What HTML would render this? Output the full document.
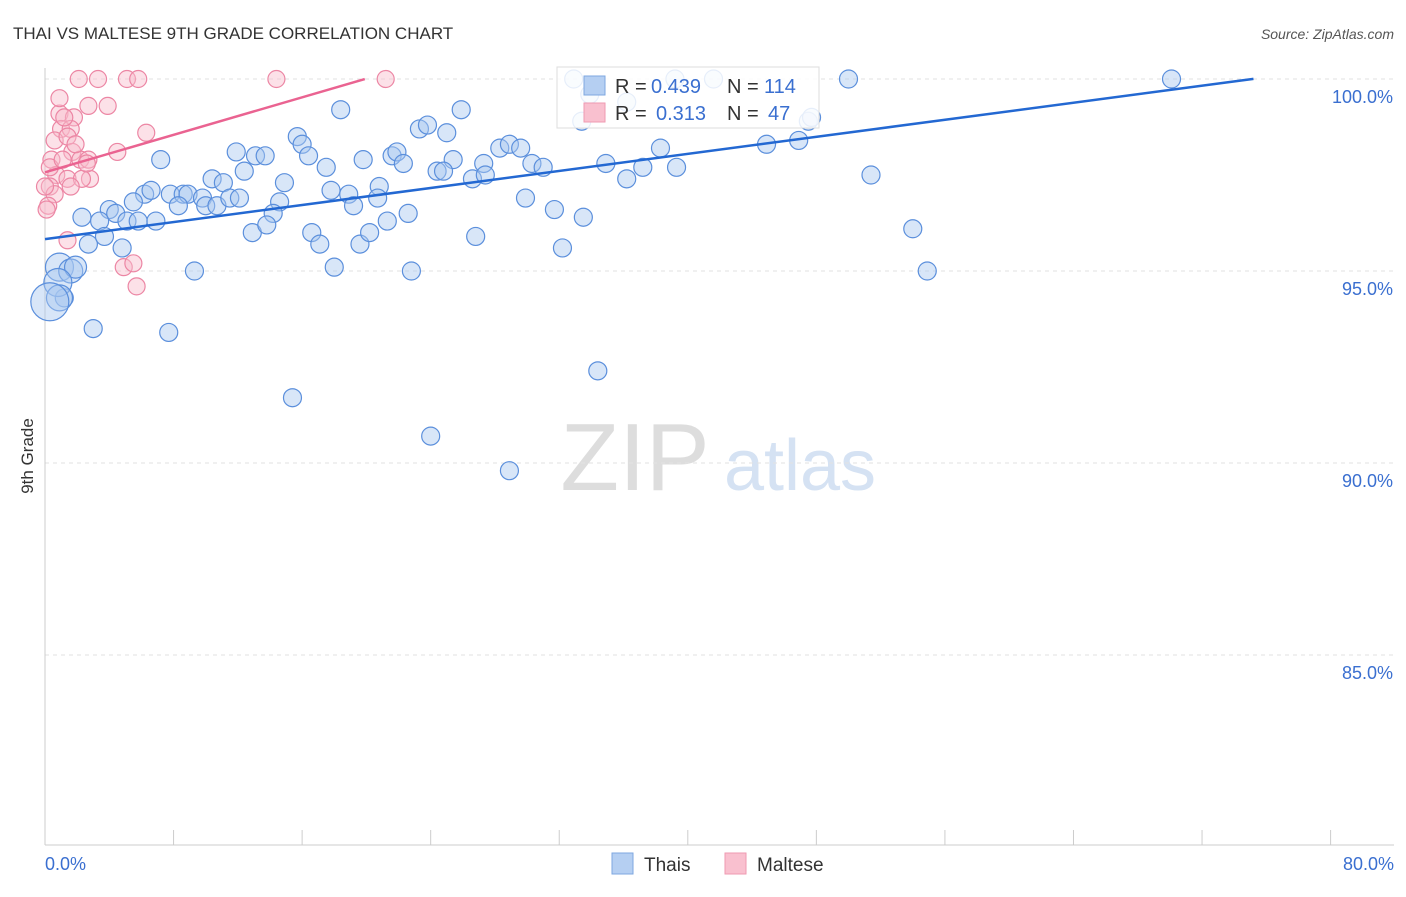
<!DOCTYPE html>
<html><head><meta charset="utf-8"><style>
body{margin:0;background:#fff;font-family:"Liberation Sans",sans-serif}
svg text{font-family:"Liberation Sans",sans-serif}
</style></head><body>
<svg id="chart" width="1406" height="892" xmlns="http://www.w3.org/2000/svg">
<text x="13" y="39" font-size="17" fill="#333">THAI VS MALTESE 9TH GRADE CORRELATION CHART</text>
<text x="1394" y="39" font-size="14" fill="#555" font-style="italic" text-anchor="end">Source: ZipAtlas.com</text>
<text transform="translate(33,456) rotate(-90)" font-size="17" fill="#333" text-anchor="middle">9th Grade</text>
<g><text x="635" y="490" font-size="96" fill="#ddd" font-family="Liberation Serif" text-anchor="middle">ZIP</text><text x="800" y="490" font-size="72" fill="#d5e2f3" text-anchor="middle">atlas</text></g>
<g id="grid"></g><g id="axes"></g><g id="pts"></g><g id="lines"></g>
<g>
<rect x="557" y="67" width="262" height="61" fill="#fff" fill-opacity="0.85" stroke="#ddd"/>
<rect x="584" y="76" width="21" height="19" fill="#b5cff2" stroke="#7ea7e0"/>
<rect x="584" y="103" width="21" height="19" fill="#f9c0cf" stroke="#ef9ab2"/>
<text x="615" y="93" font-size="20" fill="#333">R =</text>
<text x="651" y="93" font-size="20" fill="#3a6fd0">0.439</text>
<text x="727" y="93" font-size="20" fill="#333">N =</text>
<text x="764" y="93" font-size="20" fill="#3a6fd0">114</text>
<text x="615" y="120" font-size="20" fill="#333">R =</text>
<text x="656" y="120" font-size="20" fill="#3a6fd0">0.313</text>
<text x="727" y="120" font-size="20" fill="#333">N =</text>
<text x="768" y="120" font-size="20" fill="#3a6fd0">47</text>
</g>
<g>
<rect x="612" y="853" width="21" height="21" fill="#b5cff2" stroke="#7ea7e0"/>
<text x="644" y="871" font-size="19" fill="#333">Thais</text>
<rect x="725" y="853" width="21" height="21" fill="#f9c0cf" stroke="#ef9ab2"/>
<text x="757" y="871" font-size="19" fill="#333">Maltese</text>
</g>
</svg>
<script>
const yTicks=[100,95,90,85];
const xTickLabels=["0.0%","80.0%"];
const thaiX=[32.9,39.2,41.6,50.0,70.1,18.4,25.9,33.9,33.4,36.2,47.5,47.7,15.7,16.0,16.4,23.3,23.8,25.0,11.9,13.1,13.7,7.2,19.8,21.6,21.9,22.3,25.4,27.3,28.3,28.9,29.6,30.3,31.0,34.9,38.3,37.2,39.3,44.9,46.9,51.4,12.4,10.4,11.1,14.9,17.5,17.8,18.9,20.8,24.4,24.8,26.6,27.4,36.2,6.2,6.6,5.5,7.8,8.6,8.9,9.8,10.0,10.7,11.5,12.1,14.6,8.3,14.2,19.2,20.7,22.6,29.9,31.7,33.5,4.0,4.4,5.1,5.8,6.9,2.3,3.4,12.9,13.8,16.6,17.1,19.6,20.2,21.3,26.8,32.2,54.0,2.7,3.7,4.8,9.3,18.0,22.8,54.9,1.2,3.0,7.7,34.4,15.4,24.0,28.9];
const thaiY=[100,100,100,100,100,99.2,99.2,99.6,98.9,99.4,98.9,99.0,98.5,98.3,98.0,98.7,98.8,98.6,98.1,98.0,98.0,97.9,97.9,98.0,98.1,97.8,97.9,97.8,98.2,98.3,98.2,97.8,97.7,97.8,98.2,97.7,97.7,98.3,98.4,97.5,97.6,97.4,97.3,97.3,97.7,97.1,97.0,97.2,97.6,97.6,97.4,97.5,97.4,97.0,97.1,96.8,97.0,97.0,97.0,96.9,96.7,96.7,96.9,96.9,96.8,96.7,96.5,96.7,96.9,96.5,96.9,96.6,96.4,96.6,96.5,96.3,96.3,96.3,96.4,96.3,96.0,96.2,96.0,95.7,95.7,96.0,96.3,95.9,95.6,96.1,95.7,95.9,95.6,95.0,95.1,95.0,95.0,94.3,93.5,93.4,92.4,91.7,90.7,89.8];
const thaiBigX=[0.9,1.6,1.9,0.8,0.9,0.3];
const thaiBigY=[95.1,95.0,95.1,94.7,94.3,94.2];
const thaiBigR=[14,12,11,14,13,19];
const maltX=[2.1,3.3,5.1,5.8,14.4,21.2,2.7,3.9,0.9,1.8,1.0,1.6,6.3,0.6,1.4,1.7,2.2,2.7,4.5,0.4,0.7,1.4,2.8,2.3,1.6,0.3,0.6,0.2,0.1,1.4,4.9,5.5,5.7,0.9,1.2,1.9,2.6,0.3,1.1,0];
const maltY=[100,100,100,100,100,100,99.3,99.3,99.1,99.0,98.7,98.7,98.6,98.4,98.5,98.1,97.9,97.9,98.1,97.9,97.5,97.4,97.4,97.4,97.2,97.2,97.0,96.7,96.6,95.8,95.1,95.2,94.6,99.5,99.0,98.3,97.8,97.7,97.9,97.2];
const thaiFit=[95.83,0.0555,0,75.2];
const maltFit=[97.57,0.122,0,19.9];
const NS="http://www.w3.org/2000/svg";
const X=v=>45+v*16.07, Y=v=>79+(100-v)*38.4;
function mk(tag,at,p){const e=document.createElementNS(NS,tag);for(const k in at)e.setAttribute(k,at[k]);p.appendChild(e);return e;}
const grid=document.getElementById('grid'),axes=document.getElementById('axes'),pts=document.getElementById('pts'),lines=document.getElementById('lines');
yTicks.forEach(t=>{const l=mk('line',{x1:45,x2:1394,y1:Y(t),y2:Y(t),stroke:'#e2e2e2','stroke-dasharray':'4,4'},grid);


const tx=mk('text',{x:1393,y:Y(t)+24,'font-size':18,fill:'#3a6fd0','text-anchor':'end'},axes);tx.textContent=t.toFixed(1)+'%';

});
const ax=mk('line',{x1:45,x2:1394,y1:845,y2:845,stroke:'#ccc'},axes);


const ay=mk('line',{x1:45,x2:45,y1:68,y2:845,stroke:'#ccc'},axes);


for(let i=0;i<=10;i++){const t=mk('line',{x1:X(i*8),x2:X(i*8),y1:830,y2:845,stroke:'#ccc'},axes);

}
[[0,'start',45],[80,'end',1394]].forEach((d,i)=>{const t=mk('text',{x:d[2],y:870,'font-size':18,fill:'#3a6fd0','text-anchor':d[1]},axes);t.textContent=xTickLabels[i];

});
function dot(x,y,r,f,s,name){const c=mk('circle',{cx:X(x),cy:Y(y),r:r,fill:f,'fill-opacity':0.45,stroke:s,'stroke-width':1.2},pts);

}
thaiX.forEach((x,i)=>dot(x,thaiY[i],9,'#a9c8f0','#5b8fdc','thai-point'));
thaiBigX.forEach((x,i)=>dot(x,thaiBigY[i],thaiBigR[i],'#a9c8f0','#5b8fdc','thai-point'));
maltX.forEach((x,i)=>dot(x,maltY[i],8.5,'#f8bccd','#ec86a4','maltese-point'));
function fit(f,col,name){const l=mk('line',{x1:X(f[2]),y1:Y(f[0]+f[1]*f[2]),x2:X(f[3]),y2:Y(f[0]+f[1]*f[3]),stroke:col,'stroke-width':2.5},lines);

}
fit(thaiFit,'#2368d2','thai-trend-line');
fit(maltFit,'#ea6391','maltese-trend-line');
</script>
</body></html>
